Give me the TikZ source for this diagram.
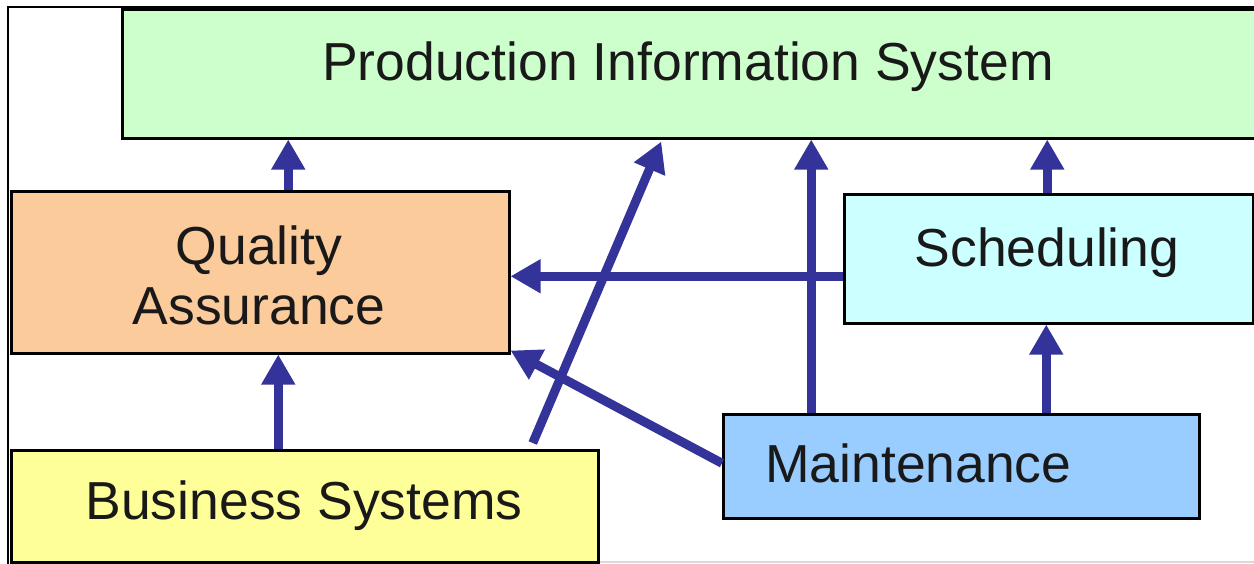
\documentclass[tikz,border=0pt]{standalone}
\usepackage{fontspec}
\setmainfont{Liberation Sans}
\usetikzlibrary{arrows.meta,calc}
\definecolor{pisgreen}{HTML}{CCFFCC}
\definecolor{qaorange}{HTML}{FCCB9C}
\definecolor{schedcyan}{HTML}{CCFFFF}
\definecolor{maintblue}{HTML}{99CCFF}
\definecolor{bsyellow}{HTML}{FFFF99}
\definecolor{arrowblue}{HTML}{333399}
\begin{document}
\begin{tikzpicture}[x=1pt,y=-1pt,
  box/.style={draw=black,line width=2.5pt,inner sep=0pt,anchor=north west},
  lbl/.style={anchor=base,inner sep=0pt,font=\fontsize{53.5}{60}\selectfont,text=black!90},
  arr/.style={draw=arrowblue,line width=9pt,-{Triangle[length=30pt,width=32pt]}}]
\useasboundingbox (0,0) rectangle (1254,563);
\fill[white] (0,0) rectangle (1254,563);
% frame
\draw[line width=2pt] (8,565) -- (8,7) -- (1256,7);
\draw[gray!30,line width=1.5pt] (597,562) -- (1256,562);
% boxes
\node[box,fill=pisgreen,minimum width=1135pt,minimum height=129pt] (pis) at (121,8) {};
\node[box,fill=qaorange,minimum width=498pt,minimum height=162pt] (qa) at (10,190) {};
\node[box,fill=schedcyan,minimum width=409pt,minimum height=129pt] (sched) at (843,193) {};
\node[box,fill=maintblue,minimum width=476pt,minimum height=104pt] (maint) at (722,413) {};
\node[box,fill=bsyellow,minimum width=587pt,minimum height=112pt] (bs) at (10,449) {};
% labels
\node[lbl] (pisL) at (688,80) {Production Information System};
\node[lbl] (qaL1) at (259,264) {Quality};
\node[lbl] (qaL2) at (259,324) {Assurance};
\node[lbl] (schedL) at (1047,266) {Scheduling};
\node[lbl,anchor=base west] (maintL) at (765,482) {Maintenance};
\node[lbl] (bsL) at (304,519) {Business Systems};
% arrows
\draw[arr] ([xshift=28pt]qa.north) -- ([xshift=28pt]qa.north |- pis.south);
\draw[arr] ([xshift=-26.5pt]bs.north) -- ([xshift=-26.5pt]bs.north |- qa.south);
\draw[arr] ([xshift=228pt,yshift=6pt]bs.north) -- ([xshift=-28.5pt,yshift=-2pt]pis.south);
\draw[arr] ([xshift=-150pt]maint.north) -- ([xshift=-150pt]maint.north |- pis.south);
\draw[arr] ([xshift=-1.5pt]sched.north) -- ([xshift=-1.5pt]sched.north |- pis.south);
\draw[arr] ([xshift=85pt]maint.north) -- ([xshift=85pt]maint.north |- sched.south);
\draw[arr] ([yshift=-17.5pt]sched.west) -- ([yshift=-17.5pt]sched.west -| qa.east);
\draw[arr] ([yshift=3pt]maint.west) -- ([yshift=4pt]qa.south east);
\end{tikzpicture}
\end{document}
